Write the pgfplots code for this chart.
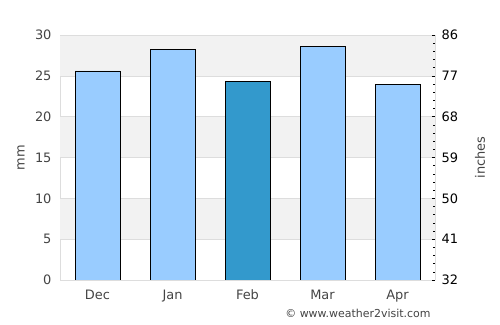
\documentclass[border=0pt]{standalone}
\usepackage{fontspec}
\setmainfont{DejaVu Sans}
\usepackage{pgfplots}
\pgfplotsset{compat=1.18}
\definecolor{lightbar}{HTML}{99CCFF}
\definecolor{darkbar}{HTML}{3399CC}
\definecolor{band}{HTML}{F2F2F2}
\definecolor{gridc}{HTML}{DDDDDD}
\definecolor{txt}{HTML}{444444}
\begin{document}
\begin{tikzpicture}
\path[use as bounding box] (0,0) rectangle (500bp,325bp);
\begin{axis}[
  at={(60bp,45bp)}, anchor=south west,
  scale only axis, width=375bp, height=245bp,
  xmin=-0.5, xmax=4.5, ymin=0, ymax=30,
  xtick={0,1,2,3,4},
  xticklabels={Dec,Jan,\raisebox{-2bp}{Feb},Mar,Apr},
  ytick={0,5,10,15,20,25,30},
  major tick length=0pt,
  axis line style={draw=gridc},
  axis y line*=left, axis x line*=bottom,
  tick label style={font=\fontsize{13}{15}\selectfont, text=txt},
  /pgf/number format/assume math mode=true,
  yticklabel style={xshift=-5bp},
  xticklabel style={yshift=-6.5bp},
  ylabel={mm},
  ylabel style={at={(rel axis cs:0,0.5)}, yshift=39bp, anchor=center, font=\fontsize{13}{15}\selectfont, text=txt},
]
\fill[band] (axis cs:-0.5,25) rectangle (axis cs:4.5,30);
\fill[band] (axis cs:-0.5,15) rectangle (axis cs:4.5,20);
\fill[band] (axis cs:-0.5,5) rectangle (axis cs:4.5,10);
\draw[gridc] (axis cs:-0.5,5) -- (axis cs:4.5,5);
\draw[gridc] (axis cs:-0.5,10) -- (axis cs:4.5,10);
\draw[gridc] (axis cs:-0.5,15) -- (axis cs:4.5,15);
\draw[gridc] (axis cs:-0.5,20) -- (axis cs:4.5,20);
\draw[gridc] (axis cs:-0.5,25) -- (axis cs:4.5,25);
\draw[gridc] (axis cs:-0.5,30) -- (axis cs:4.5,30);
\addplot[ybar, bar width=0.6, bar shift=0pt, fill=lightbar, draw=black, line width=0.8bp]
  coordinates {(0,25.6) (1,28.2) (3,28.6) (4,24.0)};
\addplot[ybar, bar width=0.6, bar shift=0pt, fill=darkbar, draw=black, line width=0.8bp]
  coordinates {(2,24.3)};
\end{axis}
\begin{axis}[
  at={(60bp,45bp)}, anchor=south west,
  scale only axis, width=375bp, height=245bp,
  xmin=-0.5, xmax=4.5, ymin=32, ymax=86,
  axis y line*=right, hide x axis,
  axis line style={draw=gridc},
  ytick={32,41,50,59,68,77,86},
  minor ytick={33.8,35.6,37.4,39.2,42.8,44.6,46.4,48.2,51.8,53.6,55.4,57.2,60.8,62.6,64.4,66.2,69.8,71.6,73.4,75.2,78.8,80.6,82.4,84.2},
  tick align=inside,
  major tick length=3bp, minor tick length=2bp,
  tick style={draw=black, line width=0.6bp},
  tick label style={font=\fontsize{13}{15}\selectfont, text=black},
  /pgf/number format/assume math mode=true,
  yticklabel style={xshift=3bp},
  ylabel={inches},
  ylabel style={at={(rel axis cs:1,0.5)}, yshift=-45bp, anchor=center, font=\fontsize{13}{15}\selectfont, text=txt},
]
\addplot[draw=none] coordinates {(0,32) (4,86)};
\end{axis}
\node[anchor=east, font=\fontsize{11}{13}\selectfont, text=txt] at (434bp,12bp) {© www.weather2visit.com};
\end{tikzpicture}
\end{document}
